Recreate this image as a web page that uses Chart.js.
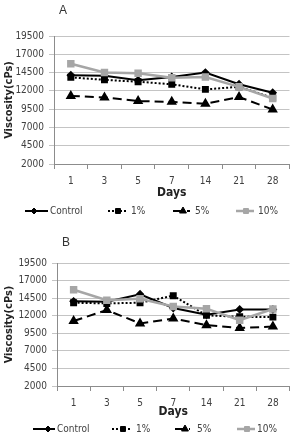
<!DOCTYPE html>
<html>
<head>
<meta charset="utf-8">
<script src="https://cdn.jsdelivr.net/npm/chart.js@4.4.1/dist/chart.umd.min.js"></script>
<style>
  html, body { margin: 0; padding: 0; background: #fff; }
  body { width: 296px; height: 441px; position: relative; overflow: hidden; }
  .panel { position: absolute; left: 0; width: 296px; }
  .tag { position: absolute; font: 12px 'Liberation Sans', Arial, sans-serif; color: #333; }
</style>
</head>
<body>
<div class="panel" style="top:0;height:220px"><canvas id="chartA" width="296" height="220"></canvas></div>
<div class="panel" style="top:220px;height:221px"><canvas id="chartB" width="296" height="221"></canvas></div>
<div class="tag" style="left:59px;top:3px">A</div>
<div class="tag" style="left:62px;top:235px">B</div>

<script>
// categories (days) and y tick labels
const days = ['1', '3', '5', '7', '14', '21', '28'];
const viscosityTicks = [2000, 4500, 7000, 9500, 12000, 14500, 17000, 19500];
const seriesNames = ['Control', '1%', '5%', '10%'];

// panel A
const controlA = [14150, 14050, 13450, 13900, 14500, 12900, 11750];
const onePctA  = [13850, 13500, 13250, 12900, 12200, 12550, 11050];
const fivePctA = [11300, 11100, 10600, 10500, 10250, 11150, 9450];
const tenPctA  = [15700, 14500, 14400, 13800, 13900, 12550, 10950];

// panel B
const controlB = [14050, 14000, 15050, 13100, 12150, 12900, 12900];
const onePctB  = [13850, 13750, 13850, 14850, 12050, 11850, 11800];
const fivePctB = [11250, 12800, 10900, 11600, 10650, 10250, 10450];
const tenPctB  = [15700, 14200, 14400, 13300, 13000, 11350, 12950];

const FONT = "'Liberation Sans Narrow', 'DejaVu Sans Condensed', 'Liberation Sans', sans-serif";
const TXT = '#404040';

// line + marker legend, like the spreadsheet one
const lineLegend = {
    id: 'lineLegend',
    afterDraw(chart, args, opts) {
        const ctx = chart.ctx;
        ctx.save();
        chart.data.datasets.forEach((ds, i) => {
            const it = opts.items[i];
            ctx.strokeStyle = ds.borderColor;
            ctx.lineWidth = ds.borderWidth;
            ctx.setLineDash(ds.borderDash || []);
            ctx.beginPath();
            ctx.moveTo(it.x0, opts.y);
            ctx.lineTo(it.x1, opts.y);
            ctx.stroke();
            ctx.setLineDash([]);
            ctx.fillStyle = ds.pointBackgroundColor;
            ctx.strokeStyle = ds.pointBorderColor;
            ctx.lineWidth = 1;
            Chart.helpers.drawPoint(ctx, {
                pointStyle: ds.pointStyle, radius: ds.pointRadius, rotation: 0, borderWidth: 1
            }, it.mx, opts.y);
            ctx.fillStyle = TXT;
            ctx.font = '10px ' + FONT;
            ctx.textBaseline = 'middle';
            ctx.textAlign = 'left';
            ctx.fillText(ds.label, it.tx, opts.y);
        });
        ctx.restore();
    }
};

function makeDatasets(control, onePct, fivePct, tenPct) {
    return [
        { label: seriesNames[0], data: control, borderColor: '#000', borderWidth: 2,
          pointStyle: 'rectRot', pointRadius: 3, pointBackgroundColor: '#000', pointBorderColor: '#000', order: 4 },
        { label: seriesNames[1], data: onePct, borderColor: '#000', borderWidth: 2, borderDash: [2, 2],
          pointStyle: 'rect', pointRadius: 3.5, pointBackgroundColor: '#000', pointBorderColor: '#000', order: 3 },
        { label: seriesNames[2], data: fivePct, borderColor: '#000', borderWidth: 2, borderDash: [9, 5],
          pointStyle: 'triangle', pointRadius: 4, pointBackgroundColor: '#000', pointBorderColor: '#000', order: 2 },
        { label: seriesNames[3], data: tenPct, borderColor: '#a6a6a6', borderWidth: 2.5,
          pointStyle: 'rect', pointRadius: 3.5, pointBackgroundColor: '#a6a6a6', pointBorderColor: '#a6a6a6', order: 1 }
    ];
}

function makeChart(id, datasets, lay) {
    return new Chart(document.getElementById(id).getContext('2d'), {
        type: 'line',
        data: { labels: days, datasets: datasets },
        plugins: [lineLegend],
        options: {
            responsive: false,
            animation: false,
            events: [],
            layout: { padding: { left: 0, right: lay.right, top: lay.top, bottom: 0 } },
            elements: { line: { tension: 0, fill: false } },
            plugins: {
                legend: { display: false },
                tooltip: { enabled: false },
                lineLegend: { y: lay.legendY, items: lay.legendItems }
            },
            scales: {
                x: {
                    offset: true,
                    afterFit(scale) { scale.height = lay.xHeight; },
                    grid: { offset: true, drawOnChartArea: false, drawTicks: true, tickLength: 5, color: '#8c8c8c' },
                    border: { color: '#8c8c8c' },
                    ticks: { color: TXT, font: { family: FONT, size: 10 }, padding: 6, maxRotation: 0 },
                    title: { display: true, text: 'Days', color: '#222', font: { family: FONT, size: 12, weight: 'bold' },
                             padding: { top: 0, bottom: lay.daysPad } }
                },
                y: {
                    min: 2000,
                    max: 19500,
                    afterFit(scale) { scale.width = lay.yWidth; },
                    afterBuildTicks(axis) { axis.ticks = viscosityTicks.map(v => ({ value: v })); },
                    grid: { color: '#c4c4c4', tickLength: 5 },
                    border: { color: '#8c8c8c' },
                    ticks: { color: TXT, font: { family: FONT, size: 10 }, padding: 5, callback: v => String(v) },
                    title: { display: true, text: 'Viscosity(cPs)', color: '#222', font: { family: FONT, size: 11, weight: 'bold' },
                             padding: { top: 3, bottom: 0 } }
                }
            }
        }
    });
}

makeChart('chartA', makeDatasets(controlA, onePctA, fivePctA, tenPctA), {
    right: 3, top: 36, yWidth: 54, xHeight: 56, daysPad: 20, legendY: 211,
    legendItems: [
        { x0: 25, x1: 48, mx: 34, tx: 50 },
        { x0: 108, x1: 126, mx: 118, tx: 131 },
        { x0: 173, x1: 190, mx: 183, tx: 195 },
        { x0: 236, x1: 254, mx: 246, tx: 258 }
    ]
});

makeChart('chartB', makeDatasets(controlB, onePctB, fivePctB, tenPctB), {
    right: 4, top: 43, yWidth: 57, xHeight: 55, daysPad: 22, legendY: 209,
    legendItems: [
        { x0: 33, x1: 55, mx: 48, tx: 57 },
        { x0: 112, x1: 132, mx: 123, tx: 136 },
        { x0: 175, x1: 190, mx: 185, tx: 197 },
        { x0: 237, x1: 255, mx: 247, tx: 257 }
    ]
});
</script>
</body>
</html>
